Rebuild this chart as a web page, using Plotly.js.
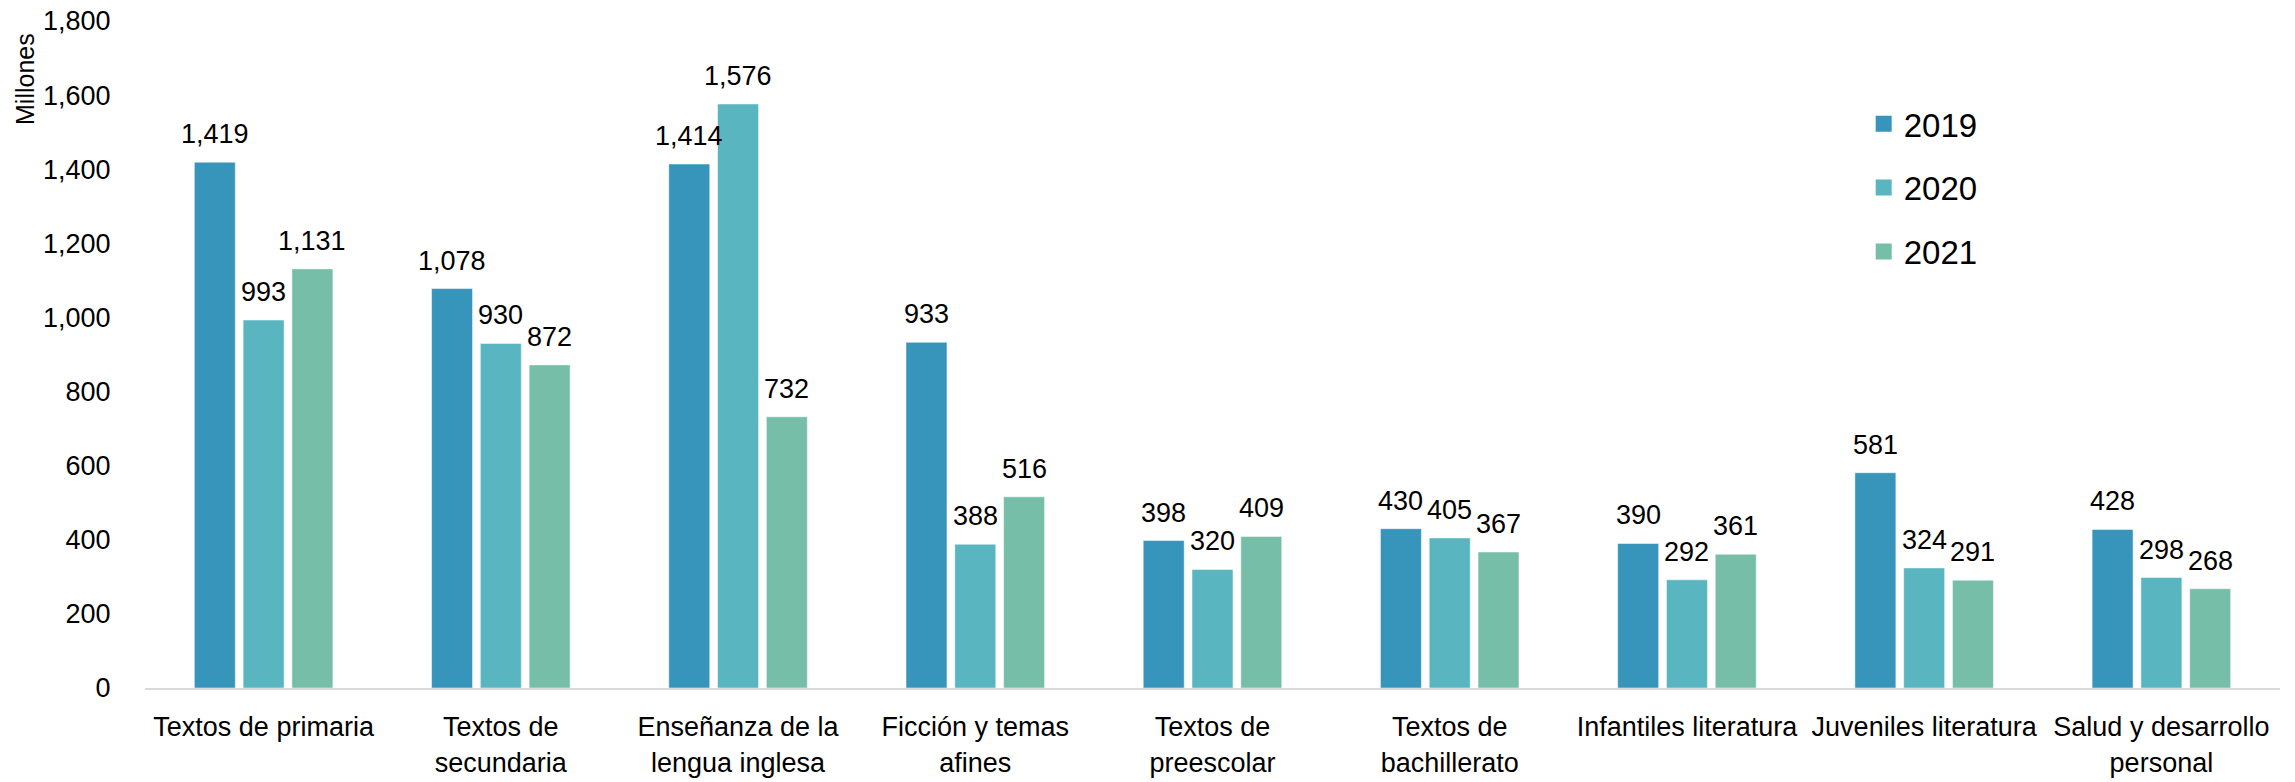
<!DOCTYPE html>
<html>
<head>
<meta charset="utf-8">
<script src="https://cdn.plot.ly/plotly-3.0.1.min.js"></script>
<style>
  html, body { margin: 0; padding: 0; background: #ffffff; }
  #chart { width: 2295px; height: 782px; }
</style>
</head>
<body>
<div id="chart"></div>
<script>
// Ventas por materia (millones), 2019-2021
const categories = [
    'Textos de primaria',
    'Textos de<br>secundaria',
    'Enseñanza de la<br>lengua inglesa',
    'Ficción y temas<br>afines',
    'Textos de<br>preescolar',
    'Textos de<br>bachillerato',
    'Infantiles literatura',
    'Juveniles literatura',
    'Salud y desarrollo<br>personal'
];
const years = ['2019', '2020', '2021'];
const values2019 = [1419, 1078, 1414, 933, 398, 430, 390, 581, 428];
const values2020 = [993, 930, 1576, 388, 320, 405, 292, 324, 298];
const values2021 = [1131, 872, 732, 516, 409, 367, 361, 291, 268];
const yTicks = [0, 200, 400, 600, 800, 1000, 1200, 1400, 1600, 1800];

const seriesValues = [values2019, values2020, values2021];
const colors = ['#3794bb', '#59b5bf', '#76bea8'];
const fontFamily = '"Liberation Sans", Arial, sans-serif';

const margin = { l: 145, r: 15, t: 21, b: 94 };
const plotWidth = 2295 - margin.l - margin.r;
const bargap = 0.383;
const slotPx = plotWidth / categories.length * (1 - bargap) / years.length;

const traces = [];
const annotations = [];

years.forEach((year, k) => {
    traces.push({
        type: 'bar',
        name: year,
        x: categories,
        y: seriesValues[k],
        marker: {
            color: colors[k],
            line: { color: 'rgba(255,255,255,0.5)', width: 1 }
        },
        showlegend: false,
        hoverinfo: 'x+y'
    });

    // legend entry with bigger square
    traces.push({
        type: 'scatter',
        mode: 'markers',
        name: year,
        x: [null],
        y: [null],
        marker: { color: colors[k], symbol: 'square', size: 19 },
        legendgroup: 'g' + k,
        showlegend: true
    });

    seriesValues[k].forEach((v, i) => {
        annotations.push({
            x: categories[i],
            y: v,
            xref: 'x',
            yref: 'y',
            text: v.toLocaleString('en-US'),
            showarrow: false,
            xshift: (k - 1) * slotPx,
            yanchor: 'bottom',
            yshift: 11,
            font: { family: fontFamily, size: 27, color: '#000000' }
        });
    });
});

annotations.push({
    text: 'Millones',
    xref: 'paper',
    yref: 'paper',
    x: 0,
    y: 1,
    xshift: -120,
    yshift: -10,
    xanchor: 'center',
    yanchor: 'top',
    textangle: -90,
    showarrow: false,
    font: { family: fontFamily, size: 25, color: '#000000' }
});

const layout = {
    width: 2295,
    height: 782,
    margin: margin,
    paper_bgcolor: '#ffffff',
    plot_bgcolor: '#ffffff',
    barmode: 'group',
    bargap: bargap,
    bargroupgap: 0.16,
    font: { family: fontFamily, size: 27, color: '#000000' },
    xaxis: {
        type: 'category',
        showgrid: false,
        showline: true,
        linecolor: '#d9d9d9',
        linewidth: 2,
        ticks: 'outside',
        ticklen: 14,
        tickcolor: 'rgba(0,0,0,0)',
        tickangle: 0,
        tickfont: { family: fontFamily, size: 27, color: '#000000' },
        zeroline: false
    },
    yaxis: {
        range: [0, 1800],
        tickvals: yTicks,
        tickformat: ',',
        showgrid: false,
        showline: false,
        zeroline: false,
        ticks: 'outside',
        ticklen: 28,
        tickcolor: 'rgba(0,0,0,0)',
        tickfont: { family: fontFamily, size: 27, color: '#000000' }
    },
    legend: {
        x: 0.805,
        y: 0.888,
        xanchor: 'left',
        yanchor: 'top',
        bgcolor: 'rgba(0,0,0,0)',
        tracegroupgap: 18,
        font: { family: fontFamily, size: 33, color: '#000000' }
    },
    annotations: annotations
};

Plotly.newPlot('chart', traces, layout, { displayModeBar: false, staticPlot: true });
</script>
</body>
</html>
